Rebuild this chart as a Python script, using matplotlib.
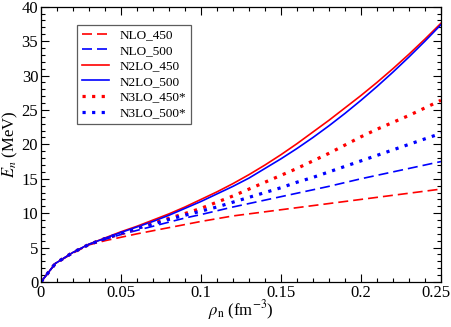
import matplotlib
matplotlib.use("Agg")
import matplotlib.pyplot as plt
from matplotlib.ticker import MultipleLocator
import matplotlib.transforms as mtrans

plt.rcParams['font.family'] = ['Liberation Serif', 'DejaVu Serif']
plt.rcParams['mathtext.fontset'] = 'stix'

rho = [0.0, 0.009, 0.02, 0.03, 0.04, 0.05, 0.06, 0.07, 0.08, 0.09, 0.10,
       0.11, 0.12, 0.13, 0.14, 0.15, 0.16, 0.17, 0.18, 0.19, 0.20,
       0.21, 0.22, 0.23, 0.24, 0.25]

nlo_450 = [0.0, 2.7, 4.2, 5.4, 6.0, 6.5, 7.0, 7.45, 7.9, 8.35, 8.8,
           9.2, 9.6, 9.9, 10.2, 10.5, 10.8, 11.1, 11.4, 11.7, 12.0,
           12.3, 12.6, 12.9, 13.2, 13.5]
nlo_500 = [0.0, 2.7, 4.25, 5.45, 6.2, 6.9, 7.5, 8.1, 8.7, 9.3, 9.8,
           10.35, 10.9, 11.4, 11.9, 12.4, 12.9, 13.4, 13.9, 14.45, 15.0,
           15.5, 16.0, 16.5, 17.0, 17.5]
n2lo_450 = [0.0, 2.7, 4.3, 5.5, 6.4, 7.3, 8.1, 9.0, 9.9, 10.9, 12.0,
            13.1, 14.3, 15.6, 17.0, 18.5, 20.1, 21.8, 23.5, 25.3, 27.1,
            29.0, 31.0, 33.1, 35.3, 37.6]
n2lo_500 = [0.0, 2.7, 4.3, 5.5, 6.35, 7.2, 8.0, 8.8, 9.7, 10.7, 11.7,
            12.8, 13.9, 15.1, 16.5, 17.9, 19.4, 21.0, 22.7, 24.5, 26.4,
            28.4, 30.5, 32.7, 35.0, 37.4]
n3lo_450 = [0.0, 2.7, 4.3, 5.45, 6.3, 7.0, 7.8, 8.55, 9.25, 9.95, 10.7,
            11.6, 12.5, 13.5, 14.5, 15.5, 16.5, 17.6, 18.7, 19.9, 21.1,
            22.2, 23.2, 24.2, 25.3, 26.4]
n3lo_500 = [0.0, 2.7, 4.3, 5.45, 6.3, 7.1, 7.8, 8.4, 9.1, 9.7, 10.3,
            10.9, 11.6, 12.3, 13.0, 13.7, 14.5, 15.2, 16.0, 16.8, 17.6,
            18.4, 19.2, 20.0, 20.8, 21.6]

labels = ['NLO_450', 'NLO_500', 'N2LO_450', 'N2LO_500', 'N3LO_450*', 'N3LO_500*']
xtick_vals = [0, 0.05, 0.1, 0.15, 0.2, 0.25]
xtick_labels = ['0', '0.05', '0.1', '0.15', '0.2', '0.25']

fig = plt.figure(figsize=(4.51, 3.27), dpi=100)
ax = fig.add_axes([0.0909, 0.1376, 0.8869, 0.8419])

red = '#ff0000'
blue = '#0000ff'
dash_kw = dict(lw=1.2, dashes=(6.0, 3.0), dash_capstyle='butt')
dot_kw = dict(lw=2.3, dashes=(1.0, 2.0), dash_capstyle='butt')
ax.plot(rho, nlo_450, color=red, label=labels[0], **dash_kw)
ax.plot(rho, nlo_500, color=blue, label=labels[1], **dash_kw)
ax.plot(rho, n2lo_450, color=red, lw=1.2, label=labels[2])
ax.plot(rho, n2lo_500, color=blue, lw=1.2, label=labels[3])
ax.plot(rho, n3lo_450, color=red, label=labels[4], **dot_kw)
ax.plot(rho, n3lo_500, color=blue, label=labels[5], **dot_kw)

ax.set_xlim(0, 0.25)
ax.set_ylim(0, 40)
ax.xaxis.set_minor_locator(MultipleLocator(0.01))
ax.yaxis.set_major_locator(MultipleLocator(5))
ax.yaxis.set_minor_locator(MultipleLocator(1))
ax.set_xticks(xtick_vals)
ax.set_xticklabels(xtick_labels)
ax.tick_params(which='both', direction='in', top=True, right=True, labelsize=12, width=0.8)
ax.tick_params(which='major', length=6, pad=2)
ax.tick_params(which='minor', length=3)
for s in ax.spines.values():
    s.set_linewidth(0.9)

# keep the last x tick label inside the figure
last = ax.get_xticklabels()[-1]
last.set_transform(last.get_transform() + mtrans.ScaledTranslation(-5/100, 0, fig.dpi_scale_trans))

ax.set_xlabel(r'$\rho_{\rm n}$ (fm$^{-3}$)', fontsize=12, labelpad=-2)
ax.set_ylabel(r'$E_n$ (MeV)', fontsize=12, labelpad=1)

leg = ax.legend(loc='upper left', bbox_to_anchor=(0.09, 0.935), fontsize=9.5,
                frameon=True, fancybox=False, handlelength=2.1, handletextpad=0.8,
                labelspacing=0.25, borderpad=0.35, borderaxespad=0)
leg.get_frame().set_edgecolor('#333333')
leg.get_frame().set_linewidth(0.9)

fig.savefig('out.png', dpi=100)
